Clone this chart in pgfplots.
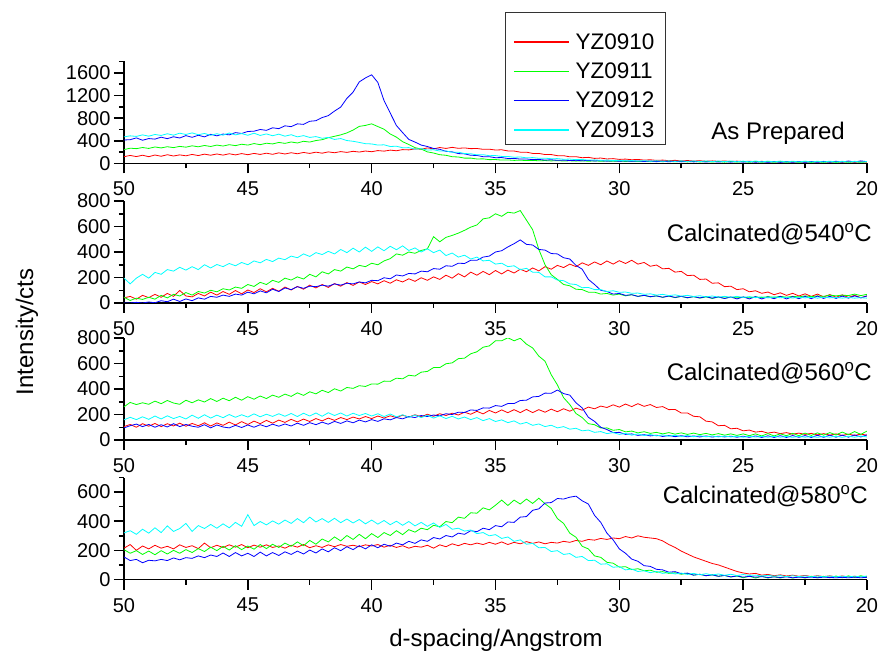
\documentclass[border=0pt]{standalone}
\usepackage{pgfplots}
\pgfplotsset{compat=1.18}
\usepackage{pgfplotstable}
\usepackage{fontspec}
\setmainfont{Liberation Sans}

\definecolor{cred}{RGB}{255,0,0}
\definecolor{cgreen}{RGB}{0,255,0}
\definecolor{cblue}{RGB}{0,0,255}
\definecolor{ccyan}{RGB}{0,255,255}

% As Prepared
\pgfplotstableread{
x r g b c
50.00 120 245 415 470
49.75 142 270 420 488
49.50 122 262 452 478
49.25 146 282 410 505
49.00 120 266 440 482
48.75 150 292 430 512
48.50 128 275 465 495
48.25 155 296 438 525
48.00 132 280 472 500
47.75 152 302 450 535
47.50 136 288 492 512
47.25 160 312 462 540
47.00 140 295 498 508
46.75 165 318 470 530
46.50 146 300 515 498
46.25 168 325 488 525
46.00 148 308 520 500
45.75 172 332 505 538
45.50 152 315 545 505
45.25 175 340 530 528
45.00 155 325 565 498
44.75 178 352 570 535
44.50 160 332 600 495
44.25 182 358 585 522
44.00 162 345 630 490
43.75 188 372 615 518
43.50 168 355 665 482
43.25 190 380 650 508
43.00 172 362 700 470
42.75 195 392 690 492
42.50 178 378 745 460
42.25 200 405 755 475
42.00 182 420 810 445
41.75 205 455 845 460
41.50 190 480 925 425
41.25 210 505 995 440
41.00 196 540 1150 405
40.75 215 590 1260 392
40.50 202 655 1440 372
40.25 220 672 1510 350
40.00 208 700 1565 345
39.75 228 652 1430 325
39.50 218 605 1110 330
39.25 236 520 890 300
39.00 225 465 670 305
38.75 245 385 545 278
38.50 240 335 425 280
38.25 258 280 378 252
38.00 252 255 325 262
37.75 275 205 300 238
37.50 258 185 265 242
37.25 282 155 250 220
37.00 266 145 215 222
36.75 285 120 205 198
36.50 268 115 175 200
36.25 275 95 170 175
36.00 262 95 145 172
35.75 265 80 142 152
35.50 250 82 120 155
35.25 252 68 120 138
35.00 238 70 102 140
34.75 242 60 105 125
34.50 222 63 88 125
34.25 220 55 90 110
34.00 200 58 78 115
33.75 200 52 80 100
33.50 178 55 68 104
33.25 178 48 72 92
33.00 158 52 60 94
32.75 158 46 66 84
32.50 138 50 56 86
32.25 138 44 60 75
32.00 118 48 52 78
31.75 120 42 56 68
31.50 102 47 48 70
31.25 108 40 54 60
31.00 90 46 45 64
30.75 96 40 50 55
30.50 80 44 42 60
30.25 86 38 48 50
30.00 72 43 40 56
29.75 78 36 46 47
29.50 66 42 38 52
29.25 72 35 45 43
29.00 60 40 35 50
28.75 66 33 44 40
28.50 55 40 32 48
28.25 60 32 42 38
28.00 50 39 30 47
27.75 56 30 40 36
27.50 46 38 29 47
27.25 52 28 39 35
27.00 44 38 28 45
26.75 48 27 38 34
26.50 40 36 26 45
26.25 46 26 38 33
26.00 38 36 25 44
25.75 44 24 37 32
25.50 36 35 24 44
25.25 42 24 36 31
25.00 34 34 24 43
24.75 40 22 35 30
24.50 32 34 22 44
24.25 38 22 34 29
24.00 30 33 20 42
23.75 37 21 35 29
23.50 28 33 20 43
23.25 36 20 34 28
23.00 27 32 21 41
22.75 35 20 36 28
22.50 26 32 20 42
22.25 34 19 36 27
22.00 26 31 21 40
21.75 33 20 38 27
21.50 25 32 22 41
21.25 32 19 40 26
21.00 24 31 24 40
20.75 31 20 44 26
20.50 23 32 26 39
20.25 30 20 46 26
20.00 24 30 32 35
}\tA

% Calcinated 540
\pgfplotstableread{
x r g b c
50.00 40 45 0 195
49.75 52 20 0 150
49.50 30 38 5 195
49.25 60 28 0 225
49.00 42 45 8 195
48.75 68 30 2 240
48.50 45 60 18 225
48.25 75 40 10 262
48.00 52 68 30 250
47.75 98 55 12 280
47.50 55 82 32 258
47.25 48 62 18 285
47.00 75 90 40 262
46.75 55 78 30 300
46.50 85 100 52 275
46.25 62 88 45 302
46.00 90 112 62 285
45.75 68 102 52 310
45.50 98 125 70 292
45.25 72 115 62 318
45.00 102 145 85 300
44.75 82 130 72 330
44.50 112 162 95 315
44.25 88 145 80 342
44.00 115 178 108 325
43.75 92 162 90 352
43.50 125 195 118 340
43.25 102 180 105 368
43.00 130 205 128 355
42.75 108 188 115 385
42.50 140 225 132 365
42.25 118 205 128 395
42.00 145 245 140 380
41.75 122 228 132 405
41.50 152 262 150 385
41.25 132 250 140 420
41.00 160 282 155 395
40.75 138 268 150 430
40.50 165 295 165 400
40.25 145 285 158 438
40.00 168 312 178 405
39.75 150 300 175 440
39.50 175 330 198 410
39.25 155 348 190 445
39.00 182 385 220 418
38.75 165 375 212 448
38.50 190 400 232 412
38.25 170 390 228 432
38.00 198 412 250 400
37.75 178 425 245 425
37.50 205 520 270 395
37.25 185 480 265 415
37.00 218 515 292 372
36.75 195 530 288 392
36.50 230 548 312 360
36.25 205 570 310 375
36.00 242 595 335 345
35.75 218 612 335 360
35.50 248 660 360 330
35.25 222 668 368 335
35.00 255 700 400 305
34.75 228 680 410 312
34.50 258 712 440 285
34.25 235 705 465 292
34.00 265 725 495 262
33.75 245 650 460 272
33.50 275 575 455 242
33.25 252 420 420 240
33.00 285 300 415 205
32.75 265 222 388 205
32.50 295 185 385 180
32.25 278 145 355 175
32.00 305 135 345 150
31.75 285 108 295 145
31.50 315 105 265 120
31.25 295 85 185 122
31.00 322 85 145 105
30.75 300 70 100 105
30.50 330 75 90 90
30.25 305 62 70 96
30.00 332 70 75 84
29.75 310 56 60 86
29.50 335 65 65 76
29.25 305 52 52 78
29.00 318 60 60 68
28.75 288 48 50 72
28.50 298 56 56 62
28.25 268 45 45 68
28.00 272 54 55 58
27.75 242 42 44 64
27.50 248 52 52 54
27.25 215 40 42 60
27.00 218 50 50 51
26.75 185 38 40 57
26.50 188 48 50 48
26.25 155 36 38 55
26.00 158 46 48 46
25.75 128 38 35 52
25.50 132 46 47 45
25.25 105 40 32 52
25.00 112 46 48 44
24.75 88 40 32 50
24.50 96 48 50 42
24.25 76 42 32 48
24.00 86 50 48 40
23.75 65 44 34 48
23.50 80 52 52 41
23.25 60 45 32 46
23.00 76 52 50 39
22.75 55 48 34 46
22.50 72 56 52 40
22.25 52 50 34 45
22.00 70 56 54 38
21.75 48 52 36 46
21.50 66 62 52 40
21.25 45 56 36 44
21.00 64 62 54 38
20.75 44 58 38 44
20.50 60 70 56 38
20.25 42 58 40 42
20.00 55 68 56 38
}\tB

% Calcinated 560
\pgfplotstableread{
x r g b c
50.00 105 260 95 158
49.75 122 295 112 178
49.50 100 278 125 160
49.25 128 292 105 182
49.00 108 280 122 162
48.75 130 305 100 188
48.50 105 285 120 165
48.25 128 310 102 190
48.00 110 290 128 168
47.75 132 280 105 185
47.50 108 312 122 165
47.25 130 292 108 195
47.00 112 315 100 170
46.75 135 298 120 198
46.50 110 325 95 172
46.25 134 302 118 195
46.00 115 328 102 175
45.75 140 308 95 200
45.50 118 335 115 178
45.25 144 312 98 198
45.00 122 340 118 180
44.75 148 320 100 205
44.50 128 345 120 182
44.25 154 325 104 202
44.00 132 352 124 185
43.75 156 335 108 206
43.50 138 360 126 186
43.25 162 342 110 208
43.00 142 370 132 184
42.75 164 350 115 210
42.50 145 378 136 188
42.25 168 362 120 212
42.00 150 390 140 186
41.75 172 372 124 214
41.50 154 402 146 192
41.25 176 384 130 212
41.00 160 412 150 188
40.75 180 405 135 210
40.50 165 426 156 192
40.25 184 420 142 208
40.00 168 440 160 188
39.75 188 438 146 206
39.50 172 462 166 184
39.25 190 460 158 204
39.00 176 485 176 182
38.75 195 480 166 198
38.50 180 508 184 178
38.25 198 502 176 196
38.00 182 532 192 176
37.75 202 538 184 194
37.50 186 568 196 172
37.25 206 568 190 190
37.00 192 598 206 168
36.75 210 605 200 186
36.50 196 638 218 165
36.25 218 642 216 180
36.00 202 676 236 160
35.75 225 692 232 176
35.50 205 728 252 152
35.25 232 738 250 168
35.00 212 778 270 145
34.75 236 778 264 158
34.50 214 802 286 136
34.25 238 778 286 150
34.00 215 798 310 125
33.75 240 752 312 138
33.50 215 722 338 115
33.25 238 658 342 126
33.00 218 618 368 105
32.75 242 512 366 116
32.50 222 432 392 95
32.25 245 332 364 105
32.00 226 278 352 85
31.75 250 208 292 92
31.50 234 176 252 72
31.25 258 128 178 78
31.00 245 120 146 60
30.75 266 94 100 66
30.50 255 95 82 50
30.25 276 76 58 58
30.00 258 82 60 44
29.75 282 64 44 52
29.50 262 70 48 38
29.25 285 56 36 48
29.00 264 65 42 35
28.75 278 52 32 43
28.50 255 60 38 32
28.25 262 48 28 40
28.00 238 58 35 30
27.75 240 46 26 37
27.50 212 56 34 28
27.25 212 44 25 35
27.00 186 54 32 26
26.75 182 42 24 34
26.50 148 52 32 25
26.25 142 40 23 32
26.00 112 50 30 24
25.75 115 38 24 31
25.50 88 48 30 24
25.25 92 36 22 30
25.00 72 48 30 22
24.75 78 34 21 30
24.50 62 48 32 23
24.25 68 32 20 29
24.00 54 50 33 22
23.75 62 32 20 29
23.50 50 48 34 22
23.25 58 34 20 28
23.00 46 52 35 21
22.75 54 34 21 29
22.50 44 54 35 22
22.25 52 36 20 28
22.00 40 56 37 21
21.75 50 38 21 29
21.50 38 58 38 22
21.25 48 40 22 30
21.00 36 62 38 21
20.75 46 42 22 30
20.50 36 66 40 22
20.25 46 44 24 31
20.00 38 70 40 24
}\tC

% Calcinated 580
\pgfplotstableread{
x r g b c
50.00 215 205 155 320
49.75 240 180 130 335
49.50 200 198 138 310
49.25 230 172 115 345
49.00 210 195 132 318
48.75 235 170 128 355
48.50 215 198 138 322
48.25 228 175 130 368
48.00 210 200 148 330
47.75 238 180 135 350
47.50 220 205 150 385
47.25 232 185 145 330
47.00 212 212 162 370
46.75 250 192 150 350
46.50 218 222 168 378
46.25 235 198 158 352
46.00 220 228 182 382
45.75 238 202 158 355
45.50 222 232 185 392
45.25 240 205 162 365
45.00 218 230 180 445
44.75 236 208 158 370
44.50 222 240 188 398
44.25 238 212 162 375
44.00 220 242 185 402
43.75 230 220 165 380
43.50 215 250 190 408
43.25 235 228 172 385
43.00 222 258 195 418
42.75 240 232 175 390
42.50 218 268 202 428
42.25 232 242 182 395
42.00 220 278 210 418
41.75 238 258 190 392
41.50 225 292 218 420
41.25 240 265 198 390
41.00 228 302 225 415
40.75 235 275 205 388
40.50 225 310 232 412
40.25 238 280 210 382
40.00 230 315 238 408
39.75 240 288 218 380
39.50 222 322 242 405
39.25 235 302 228 376
39.00 220 335 250 400
38.75 232 308 238 372
38.50 215 342 262 398
38.25 228 325 248 368
38.00 222 352 272 392
37.75 235 342 262 365
37.50 215 372 288 388
37.25 238 362 278 358
37.00 225 398 302 378
36.75 245 390 292 345
36.50 232 428 318 352
36.25 248 420 310 332
36.00 238 458 335 340
35.75 250 455 328 315
35.50 240 492 352 322
35.25 255 478 342 300
35.00 242 510 370 308
34.75 258 545 362 282
34.50 240 508 395 292
34.25 255 545 392 262
34.00 245 518 428 272
33.75 260 552 432 242
33.50 248 522 475 248
33.25 258 558 485 218
33.00 245 520 525 220
32.75 255 488 528 192
32.50 250 418 556 198
32.25 262 385 552 172
32.00 255 318 565 178
31.75 268 290 572 152
31.50 262 228 540 158
31.25 275 210 518 130
31.00 270 162 440 132
30.75 282 152 392 105
30.50 275 118 318 108
30.25 285 112 272 84
30.00 280 85 210 88
29.75 295 88 180 66
29.50 285 68 140 72
29.25 300 74 125 55
29.00 290 60 95 60
28.75 285 64 90 47
28.50 280 50 70 55
28.25 265 54 66 42
28.00 240 42 50 48
27.75 220 46 54 38
27.50 195 36 40 44
27.25 175 42 44 35
27.00 155 30 30 42
26.75 140 36 36 32
26.50 125 26 26 40
26.25 110 32 32 31
26.00 100 22 22 38
25.75 85 28 28 29
25.50 70 17 18 36
25.25 55 24 25 27
25.00 45 12 16 34
24.75 38 22 22 28
24.50 42 10 16 30
24.25 30 22 20 24
24.00 35 10 14 29
23.75 26 20 18 23
23.50 32 10 14 27
23.25 24 22 18 20
23.00 30 10 12 26
22.75 22 20 16 20
22.50 28 10 14 25
22.25 20 22 16 18
22.00 26 12 12 24
21.75 20 22 16 18
21.50 25 12 14 24
21.25 18 24 12 18
21.00 24 12 15 23
20.75 18 25 12 18
20.50 22 14 16 23
20.25 17 26 12 18
20.00 20 16 15 24
}\tD

\pgfplotsset{
  panel/.style={
    scale only axis, width=743pt, height=102pt,
    xmin=20, xmax=50, x dir=reverse,
    axis x line*=bottom, axis y line*=left,
    xtick={20,25,...,50}, minor x tick num=1,
    tick align=outside,
    major tick length=10pt, minor tick length=5pt,
    major tick style={line width=1.5pt, black},
    minor tick style={line width=1.5pt, black},
    axis line style={line width=1.6pt, black},
    tick label style={font=\fontsize{20}{24}\selectfont},
    xticklabel style={yshift=-5pt},
    /pgf/number format/assume math mode=true,
    /pgf/number format/1000 sep={},
    ymin=0,
    anchor=south west,
    every axis plot/.append style={line width=0.8pt, no markers},
  }
}

\begin{document}
\begin{tikzpicture}[x=1pt,y=1pt]
\useasboundingbox (0,0) rectangle (880,654);

\begin{axis}[panel, at={(124pt,490.5pt)}, ymax=1800,
  ytick={0,400,800,1200,1600}, minor ytick={200,600,1000,1400,1800},
  legend style={at={(0.5128,1.345)}, anchor=north west, draw=none, fill=none,
    font=\fontsize{22.5}{27}\selectfont, inner xsep=8pt, inner ysep=5pt, row sep=8.1pt,
    /tikz/every odd column/.append style={column sep=4pt}},
  legend cell align=left,
  legend image code/.code={\draw[#1, line width=1.3pt] (0pt,0pt) -- (55pt,0pt);}]
\addplot[cred] table[x=x,y=r] {\tA};
\addplot[cgreen] table[x=x,y=g] {\tA};
\addplot[cblue] table[x=x,y=b] {\tA};
\addplot[ccyan] table[x=x,y=c] {\tA};
\legend{YZ0910,YZ0911,YZ0912,YZ0913}
\end{axis}

\begin{axis}[panel, at={(124pt,351pt)}, ymax=800,
  ytick={0,200,...,800}, minor y tick num=1]
\addplot[cred] table[x=x,y=r] {\tB};
\addplot[cgreen] table[x=x,y=g] {\tB};
\addplot[cblue] table[x=x,y=b] {\tB};
\addplot[ccyan] table[x=x,y=c] {\tB};
\end{axis}

\begin{axis}[panel, at={(124pt,214pt)}, ymax=800,
  ytick={0,200,...,800}, minor y tick num=1]
\addplot[cred] table[x=x,y=r] {\tC};
\addplot[cgreen] table[x=x,y=g] {\tC};
\addplot[cblue] table[x=x,y=b] {\tC};
\addplot[ccyan] table[x=x,y=c] {\tC};
\end{axis}

\begin{axis}[panel, at={(124pt,74.5pt)}, ymax=700,
  ytick={0,200,400,600}, minor ytick={100,300,500,700}]
\addplot[cred] table[x=x,y=r] {\tD};
\addplot[cgreen] table[x=x,y=g] {\tD};
\addplot[cblue] table[x=x,y=b] {\tD};
\addplot[ccyan] table[x=x,y=c] {\tD};
\end{axis}

\draw[black!80, line width=1pt] (505,641.3) rectangle (665,509);

\node[anchor=base east, font=\fontsize{24}{28}\selectfont, inner sep=0pt] at (845,514) {As Prepared};
\node[anchor=base east, font=\fontsize{24}{28}\selectfont, inner sep=0pt] at (872,412.5) {Calcinated@540\textsuperscript{o}C};
\node[anchor=base east, font=\fontsize{24}{28}\selectfont, inner sep=0pt] at (872,273.5) {Calcinated@560\textsuperscript{o}C};
\node[anchor=base east, font=\fontsize{24}{28}\selectfont, inner sep=0pt] at (868,150.5) {Calcinated@580\textsuperscript{o}C};
\node[anchor=base, rotate=90, font=\fontsize{24}{28}\selectfont, inner sep=0pt] at (33,322) {Intensity/cts};
\node[anchor=base, font=\fontsize{24}{28}\selectfont, inner sep=0pt] at (496,8) {d-spacing/Angstrom};
\end{tikzpicture}
\end{document}
